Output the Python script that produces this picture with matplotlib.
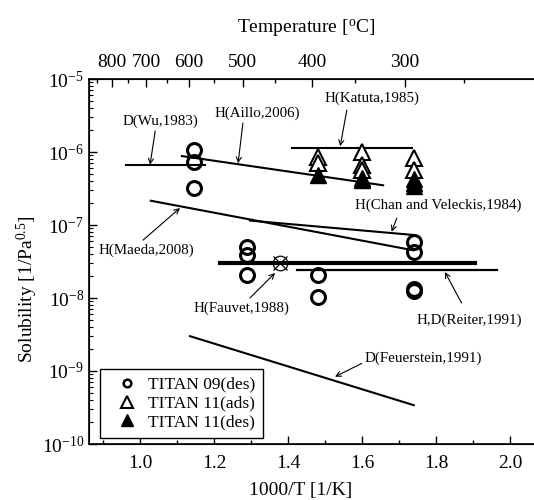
import numpy as np
import matplotlib
matplotlib.use("Agg")
import matplotlib.pyplot as plt
from matplotlib.lines import Line2D
from matplotlib.ticker import FixedLocator, NullFormatter

plt.rcParams["font.family"] = "Liberation Serif"
plt.rcParams["mathtext.fontset"] = "custom"
plt.rcParams["mathtext.rm"] = "Liberation Serif"
plt.rcParams["mathtext.it"] = "Liberation Serif:italic"

# TITAN 09 desorption (open circles)
t09_x = [1.145, 1.145, 1.145, 1.288, 1.288, 1.288, 1.48, 1.48, 1.74, 1.74, 1.74, 1.74]
t09_y = [1.06e-6, 7.3e-7, 3.2e-7, 5.05e-8, 3.9e-8, 2.07e-8, 2.07e-8, 1.04e-8,
         5.9e-8, 4.3e-8, 1.32e-8, 1.24e-8]

# TITAN 11 adsorption (open triangles) / desorption (filled triangles)
t11a_x = [1.48, 1.48, 1.60, 1.60, 1.60, 1.74, 1.74]
t11a_y = [8.6e-7, 7.0e-7, 1.0e-6, 6.6e-7, 5.7e-7, 8.2e-7, 5.7e-7]
t11d_x = [1.48, 1.60, 1.60, 1.74, 1.74, 1.74]
t11d_y = [4.8e-7, 4.4e-7, 4.1e-7, 4.3e-7, 3.8e-7, 3.4e-7]

# literature solubility lines
wu_x, wu_y = [0.962, 1.176], [6.6e-7, 6.6e-7]
aillo_x, aillo_y = [1.113, 1.657], [8.8e-7, 3.5e-7]
katuta_x, katuta_y = [1.41, 1.734], [1.15e-6, 1.15e-6]
maeda_x, maeda_y = [1.029, 1.739], [2.15e-7, 4.5e-8]
chan_x, chan_y = [1.297, 1.739], [1.15e-7, 7.3e-8]
fauvet_x, fauvet_y = [1.216, 1.905], [3.0e-8, 3.0e-8]
reiter_x, reiter_y = [1.424, 1.964], [2.4e-8, 2.4e-8]
feuer_x, feuer_y = [1.135, 1.74], [3.0e-9, 3.4e-10]
fauvet_pt_x, fauvet_pt_y = [1.378], [3.0e-8]

# top axis temperatures
temp_major = [800, 700, 600, 500, 400, 300]
temp_minor = [850, 750, 650, 550, 450, 350, 250]


def inv_t(t):
    return 1000.0 / (np.asarray(t, dtype=float) + 283.0)


fig = plt.figure(figsize=(5.34, 5.0), dpi=100)
ax = fig.add_axes([89 / 534, 56 / 500, 458 / 534, 365 / 500])

# lines
ax.plot(wu_x, wu_y, color="black", lw=1.5)
ax.plot(aillo_x, aillo_y, color="black", lw=1.5)
ax.plot(katuta_x, katuta_y, color="black", lw=1.5)
ax.plot(maeda_x, maeda_y, color="black", lw=1.5)
ax.plot(chan_x, chan_y, color="black", lw=1.5)
ax.plot(fauvet_x, fauvet_y, color="black", lw=3.0)
ax.plot(reiter_x, reiter_y, color="black", lw=1.6)
ax.plot(feuer_x, feuer_y, color="black", lw=1.5)

# Fauvet point: circle with cross
ax.plot(fauvet_pt_x, fauvet_pt_y, marker="o", ms=10.5, mfc="none", mec="black", mew=0.9, ls="none", zorder=4)
ax.plot(fauvet_pt_x, fauvet_pt_y, marker="x", ms=10.5, mec="black", mew=0.9, ls="none", zorder=4)

# measurements
ax.plot(t09_x, t09_y, marker="o", ms=10, mfc="none", mec="black", mew=2.2, ls="none", zorder=5)
ax.plot(t11a_x, t11a_y, marker="^", ms=11.5, mfc="white", mec="black", mew=1.5, ls="none", zorder=5)
ax.plot(t11d_x, t11d_y, marker="^", ms=11.5, mfc="black", mec="black", mew=1.0, ls="none", zorder=6)


def label(text, xy, tail, pos, ha="center"):
    ax.annotate("", xy=xy, xytext=tail,
                arrowprops=dict(arrowstyle="->", color="black", lw=0.8,
                                shrinkA=0, shrinkB=0, mutation_scale=9))
    ax.text(pos[0], pos[1], text, ha=ha, va="center", fontsize=10.8)


label("D(Wu,1983)", (1.027, 6.7e-7), (1.041, 1.94e-6), (1.054, 2.6e-6))
label("H(Aillo,2006)", (1.265, 7.0e-7), (1.278, 2.49e-6), (1.316, 3.42e-6))
label("H(Katuta,1985)", (1.541, 1.2e-6), (1.559, 3.76e-6), (1.626, 5.5e-6))
label("H(Chan and Veleckis,1984)", (1.680, 8.1e-8), (1.694, 1.24e-7), (1.581, 1.88e-7), ha="left")
label("H(Maeda,2008)", (1.108, 1.71e-7), (1.008, 6.2e-8), (1.018, 4.55e-8))
label("H(Fauvet,1988)", (1.365, 2.2e-8), (1.297, 1.0e-8), (1.273, 7.3e-9))
label("H,D(Reiter,1991)", (1.824, 2.27e-8), (1.869, 8.55e-9), (1.748, 5.0e-9), ha="left")
label("D(Feuerstein,1991)", (1.527, 8.35e-10), (1.599, 1.27e-9), (1.608, 1.5e-9), ha="left")

# axes
ax.set_yscale("log")
ax.set_ylim(1e-10, 1e-5)
ax.set_xlim(0.862, 2.1)
ax.set_xticks(np.arange(1.0, 2.01, 0.2))
ax.set_xticklabels(["1.0", "1.2", "1.4", "1.6", "1.8", "2.0"])
ax.xaxis.set_minor_locator(FixedLocator(np.arange(0.9, 2.1, 0.2)))
ax.tick_params(axis="both", which="both", direction="in", labelsize=14)
ax.tick_params(axis="x", which="major", length=6, width=1, pad=8)
ax.tick_params(axis="x", which="minor", length=3, width=1)
ax.tick_params(axis="y", which="major", length=6, width=1)
ax.tick_params(axis="y", which="minor", length=3, width=0.8)
ax.yaxis.set_minor_formatter(NullFormatter())
ax.set_xlabel("1000/T [1/K]", fontsize=14)
ax.xaxis.set_label_coords(0.463, -0.103)
ax.set_ylabel("Solubility [1/Pa$^{0.5}$]", fontsize=14)
ax.yaxis.set_label_coords(-0.107, 0.425)
for sp in ax.spines.values():
    sp.set_linewidth(1.2)

# top temperature axis
ax2 = ax.twiny()
ax2.set_xlim(ax.get_xlim())
ax2.set_xticks(inv_t(temp_major))
ax2.set_xticklabels([str(t) for t in temp_major])
ax2.xaxis.set_minor_locator(FixedLocator(inv_t(temp_minor)))
ax2.tick_params(axis="x", which="both", direction="in", labelsize=14)
ax2.tick_params(axis="x", which="major", length=6, width=1, pad=6)
ax2.tick_params(axis="x", which="minor", length=3, width=1)
ax2.set_xlabel("Temperature [$^{\\mathrm{o}}$C]", fontsize=14)
ax2.xaxis.set_label_coords(0.474, 1.128)

# legend
handles = [
    Line2D([], [], marker="o", ms=5.5, mfc="none", mec="black", mew=1.8, ls="none"),
    Line2D([], [], marker="^", ms=8.5, mfc="white", mec="black", mew=1.5, ls="none"),
    Line2D([], [], marker="^", ms=8.5, mfc="black", mec="black", ls="none"),
]
leg = ax.legend(handles, ["TITAN 09(des)", "TITAN 11(ads)", "TITAN 11(des)"],
                loc="lower left", bbox_to_anchor=(0.024, 0.016), borderaxespad=0,
                fontsize=12.5, frameon=True, fancybox=False, framealpha=1,
                edgecolor="black", handlelength=2.2, labelspacing=0.15,
                borderpad=0.45, handletextpad=0.1)
leg.get_frame().set_linewidth(1.0)

fig.savefig("out.png", dpi=100)
